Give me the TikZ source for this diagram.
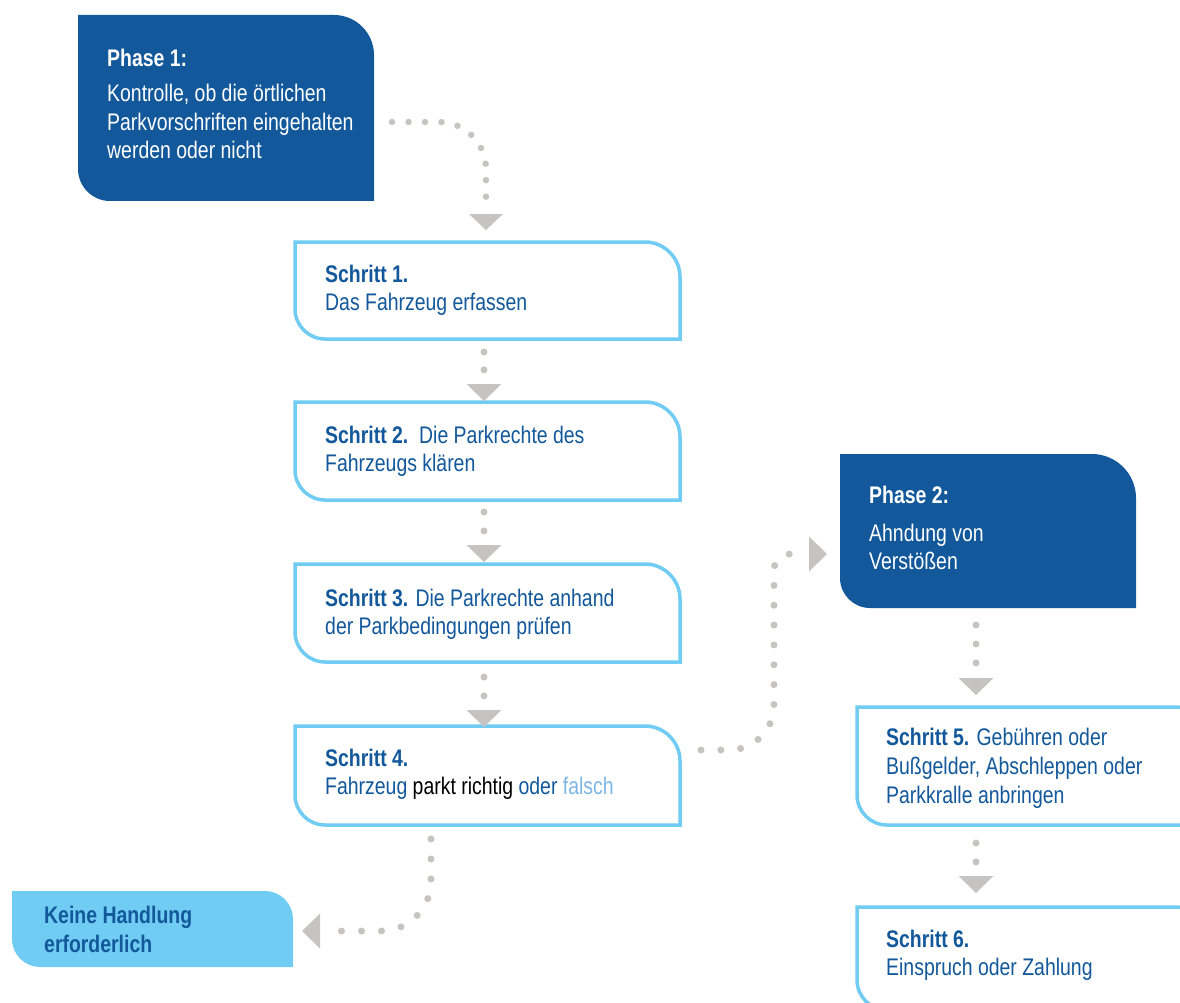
\documentclass[tikz,border=0pt]{standalone}
\usepackage{fontspec}
\setmainfont{Liberation Sans}[FakeStretch=0.81]
\definecolor{dblue}{RGB}{18,88,155}
\definecolor{lblue}{RGB}{112,204,242}
\definecolor{pblue}{RGB}{125,182,230}
\definecolor{dotgray}{RGB}{198,196,194}
\tikzset{
  tab/.style n args={6}{insert path={(#1,#2) -- ({#3-#5},#2) .. controls ({#3-0.45*#5},#2) and (#3,{#2+0.45*#5}) .. (#3,{#2+#5}) -- (#3,#4) -- ({#1+#6},#4) .. controls ({#1+0.45*#6},#4) and (#1,{#4-0.45*#6}) .. (#1,{#4-#6}) -- cycle}},
  phasebox/.style={fill=dblue, draw=none},
  stepbox/.style={fill=white, draw=lblue, line width=3.5pt},
  nobox/.style={fill=lblue, draw=none},
  txt/.style={anchor=base west, inner sep=0pt, font=\fontsize{24}{28}\selectfont},
  wtxt/.style={txt, text=white},
  btxt/.style={txt, text=dblue},
  bold/.style={font=\fontsize{24}{28}\selectfont\bfseries},
  dotline/.style={draw=dotgray, line width=7pt, line cap=round},
  tri/.style={fill=dotgray, draw=none},
}
\begin{document}
\begin{tikzpicture}[x=1pt, y=-1pt]
\useasboundingbox (0,0) rectangle (1180,1003);
\clip (0,0) rectangle (1180,1003);

% boxes
\path[phasebox, tab={78}{15}{374}{201}{40}{32}];
\path[stepbox, tab={295}{242}{680}{339}{35}{30}];
\path[stepbox, tab={295}{402}{680}{500}{35}{30}];
\path[stepbox, tab={295}{564}{680}{662}{35}{30}];
\path[stepbox, tab={295}{726}{680}{825}{35}{30}];
\path[phasebox, tab={840}{454}{1136}{608}{44}{30}];
\path[stepbox, tab={857}{707}{1210}{825}{35}{30}];
\path[stepbox, tab={857}{907}{1210}{1010}{35}{30}];
\path[nobox, tab={12}{891}{293}{967}{28}{28}];

% texts
\node[wtxt, bold] (p1h) at (107,67) {Phase 1:};
\node[wtxt] (p1a) at (107,102) {Kontrolle, ob die örtlichen};
\node[wtxt] (p1b) at (107,131) {Parkvorschriften eingehalten};
\node[wtxt] (p1c) at (107,159) {werden oder nicht};

\node[btxt] (s1a) at (325,282) {\textbf{Schritt 1.}};
\node[btxt] (s1b) at (325,310) {Das Fahrzeug erfassen};
\node[btxt] (s2a) at (325,443) {\textbf{Schritt 2.}\ \ Die Parkrechte des};
\node[btxt] (s2b) at (325,471) {Fahrzeugs klären};
\node[btxt] (s3a) at (325,606) {\textbf{Schritt 3.} Die Parkrechte anhand};
\node[btxt] (s3b) at (325,634) {der Parkbedingungen prüfen};
\node[btxt] (s4a) at (325,766) {\textbf{Schritt 4.}};
\node[btxt] (s4b) at (325,794) {Fahrzeug \textcolor{black}{parkt richtig} oder \textcolor{pblue}{falsch}};

\node[wtxt, bold] (p2h) at (869,503) {Phase 2:};
\node[wtxt] (p2a) at (869,541) {Ahndung von};
\node[wtxt] (p2b) at (869,569) {Verstößen};

\node[btxt] (s5a) at (886,745) {\textbf{Schritt 5.} Gebühren oder};
\node[btxt] (s5b) at (886,774) {Bußgelder, Abschleppen oder};
\node[btxt] (s5c) at (886,803) {Parkkralle anbringen};
\node[btxt] (s6a) at (886,947) {\textbf{Schritt 6.}};
\node[btxt] (s6b) at (886,975) {Einspruch oder Zahlung};

\node[btxt, bold] (k1) at (44,923) {Keine Handlung};
\node[btxt, bold] (k2) at (44,952) {erforderlich};

% connector coordinates
\coordinate (c1s) at (392,122);
\coordinate (c1e) at (486,197);
\coordinate (t1) at (486,230);
\coordinate (c2s) at (484,352);
\coordinate (c2e) at (484,370);
\coordinate (t2) at (484,401);
\coordinate (c3s) at (484,512);
\coordinate (c3e) at (484,531);
\coordinate (t3) at (484,562);
\coordinate (c4s) at (484,677);
\coordinate (c4e) at (484,696);
\coordinate (t4) at (484,727);
\coordinate (c5s) at (701,750);
\coordinate (c5e) at (790,554);
\coordinate (t5) at (827,554);
\coordinate (c6s) at (976,625);
\coordinate (c6e) at (976,663);
\coordinate (t6) at (976,695);
\coordinate (c7s) at (976,843);
\coordinate (c7e) at (976,862);
\coordinate (t7) at (976,893);
\coordinate (c8s) at (431,839);
\coordinate (c8e) at (341,931);
\coordinate (t8) at (302,931);

% dotted connectors
\draw[dotline, line width=6.5pt, dash pattern=on 0pt off 16.5pt] (c1s) -- (439,122) .. controls (465,122) and (486,143) .. (486,169) -- (c1e);
\draw[dotline, dash pattern=on 0pt off 17.9pt] (c2s) -- (c2e);
\draw[dotline, dash pattern=on 0pt off 18.9pt] (c3s) -- (c3e);
\draw[dotline, dash pattern=on 0pt off 18.9pt] (c4s) -- (c4e);
\draw[dotline, dash pattern=on 0pt off 19.85pt] (c5s) -- (729,750) .. controls (754,750) and (774,730) .. (774,705) -- (774,570) .. controls (774,561) and (781,554) .. (c5e);
\draw[dotline, dash pattern=on 0pt off 18.95pt] (c6s) -- (c6e);
\draw[dotline, dash pattern=on 0pt off 18.9pt] (c7s) -- (c7e);
\draw[dotline, dash pattern=on 0pt off 20pt] (c8s) -- (431,881) .. controls (431,908.6) and (408.6,931) .. (381,931) -- (c8e);

% arrow heads
\path[tri] (t1) -- ++(-17,-16) -- ++(34,0) -- cycle;
\path[tri] (t2) -- ++(-17.5,-17) -- ++(35,0) -- cycle;
\path[tri] (t3) -- ++(-17.5,-17) -- ++(35,0) -- cycle;
\path[tri] (t4) -- ++(-17.5,-17) -- ++(35,0) -- cycle;
\path[tri] (t5) -- ++(-18,-17.5) -- ++(0,35) -- cycle;
\path[tri] (t6) -- ++(-17.5,-17) -- ++(35,0) -- cycle;
\path[tri] (t7) -- ++(-17.5,-17) -- ++(35,0) -- cycle;
\path[tri] (t8) -- ++(18,-17.5) -- ++(0,35) -- cycle;
\end{tikzpicture}
\end{document}
